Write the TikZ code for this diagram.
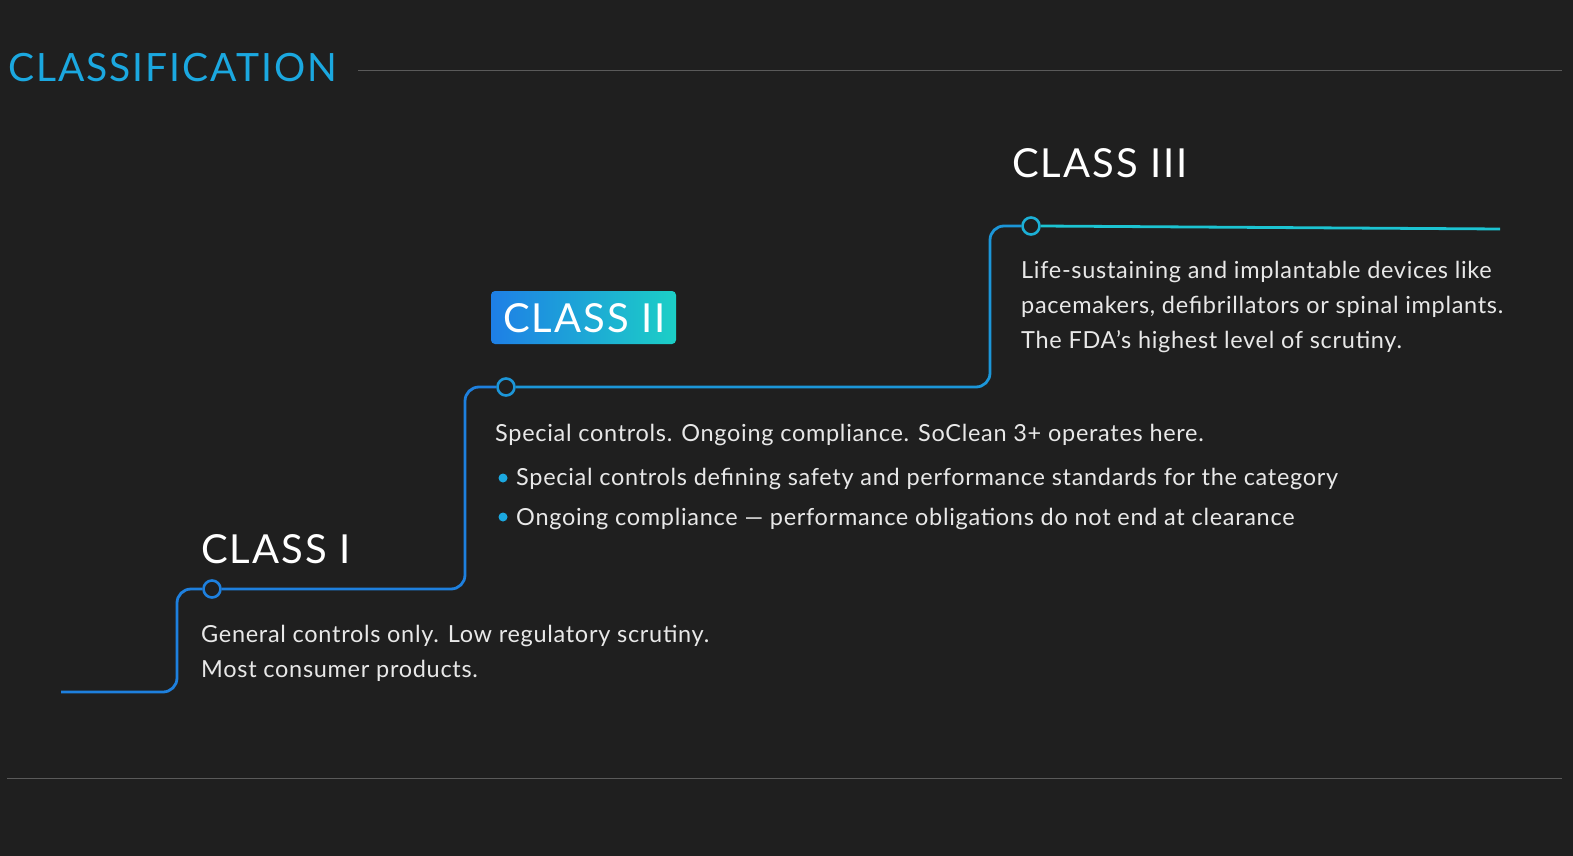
\documentclass[tikz,border=0pt]{standalone}
\usepackage{fontspec}
\setmainfont{Lato}
\usetikzlibrary{shadings}
\definecolor{bg}{HTML}{1F1F1F}
\definecolor{ttl}{HTML}{1BA8E0}
\definecolor{rule}{HTML}{5A5A5A}
\definecolor{txt}{HTML}{E8E8E8}
\definecolor{la}{HTML}{1E80DE}
\definecolor{lb}{HTML}{1C96D8}
\definecolor{lc}{HTML}{1CB0D6}
\definecolor{ld}{HTML}{1CC4D2}
\definecolor{ga}{HTML}{1E7FE6}
\definecolor{gb}{HTML}{1CCFC6}
\tikzset{
 head/.style={anchor=base west,text=white,font=\addfontfeatures{LetterSpace=5}\fontsize{40}{40}\selectfont,inner sep=0},
 body/.style={anchor=base west,text=txt,font=\addfontfeatures{LetterSpace=3}\fontsize{23.5}{35}\selectfont,inner sep=0},
 stairline/.style={line width=2.8pt,rounded corners=14pt},
 dot/.style={circle,draw,line width=2.6pt,fill=bg,minimum size=17pt,inner sep=0},
}
\begin{document}
\begin{tikzpicture}[x=1pt,y=-1pt]
\fill[bg] (0,0) rectangle (1573,856);
\useasboundingbox (0,0) rectangle (1573,856);
\node[anchor=base west,inner sep=0,text=ttl,font=\addfontfeatures{LetterSpace=5}\fontsize{39}{39}\selectfont] (title) at (8,82) {CLASSIFICATION};
\coordinate (r1) at (358,71); \coordinate (r2) at (1562,71);
\draw[rule,line width=1pt] (r1) -- (r2);
\coordinate (b1) at (7,778); \coordinate (b2) at (1562,778);
\draw[rule,line width=1pt] (b1) -- (b2);
% steps
\coordinate (s0) at (61,692);
\coordinate (s3) at (1500,229);
\node[dot,draw=la] (d1) at (212,589) {};
\node[dot,draw=lb] (d2) at (506,387) {};
\node[dot,draw=lc] (d3) at (1031,226) {};
\draw[stairline,la] (s0) -- (177,692) -- (177,589) -- (d1.west);
\draw[stairline,la] (d1.east) -- (465,589) -- (465,387) -- (d2.west);
\draw[stairline,lb] (d2.east) -- (990,387) -- (990,226) -- (d3.west);
\draw[line width=2.8pt,ld] (d3.east) -- (s3);
% texts
\node[head] (c1) at (201,563) {CLASS I};
\node[body] (t1a) at (201,642) {General controls only. Low regulatory scrutiny.};
\node[body] (t1b) at (201,677) {Most consumer products.};
\shade[left color=ga,right color=gb,rounded corners=4pt] (491,291) rectangle (676,344);
\node[head] (c2) at (503,332) {CLASS II};
\node[body] (t2) at (495,441) {Special controls. Ongoing compliance. SoClean 3+ operates here.};
\node[body] (t2a) at (516,485) {Special controls defining safety and performance standards for the category};
\node[body] (t2b) at (516,525) {Ongoing compliance — performance obligations do not end at clearance};
\fill[ttl] (503,478) circle (4.5pt);
\fill[ttl] (503,517) circle (4.5pt);
\node[head] (c3) at (1012,177) {CLASS III};
\node[body] (t3a) at (1021,278) {Life-sustaining and implantable devices like};
\node[body] (t3b) at (1021,313) {pacemakers, defibrillators or spinal implants.};
\node[body] (t3c) at (1021,348) {The FDA’s highest level of scrutiny.};
\end{tikzpicture}
\end{document}
